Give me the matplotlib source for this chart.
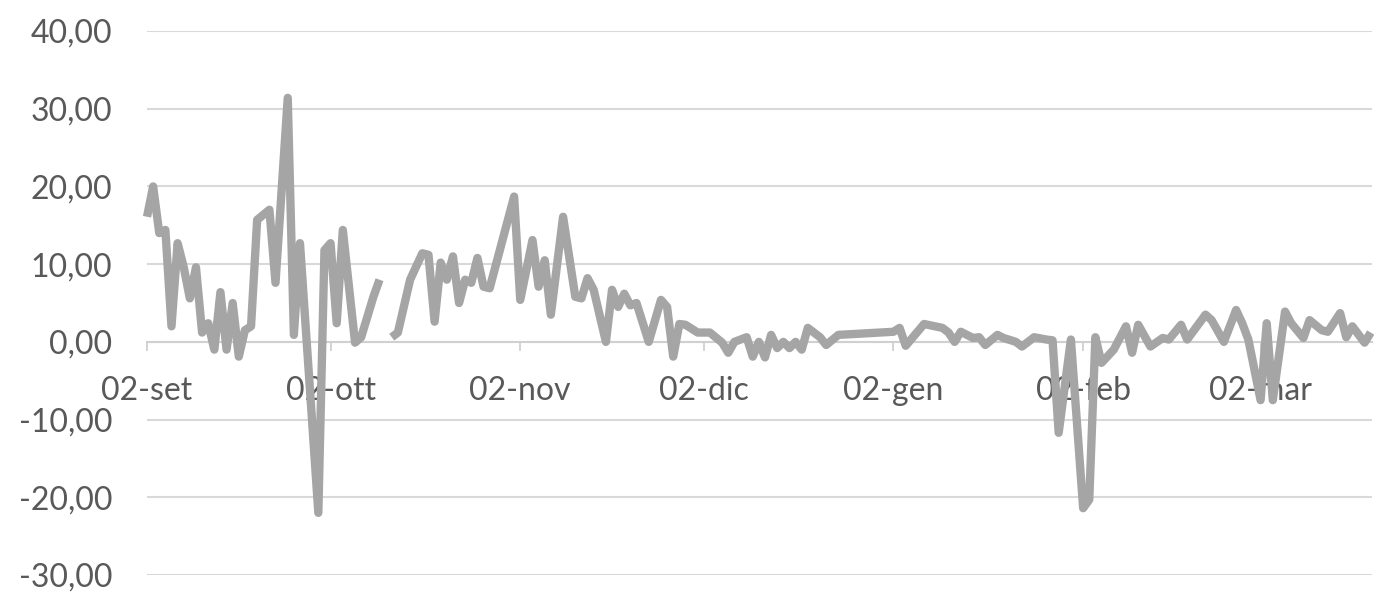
import numpy as np
import pandas as pd
import matplotlib
matplotlib.use("Agg")
import matplotlib.pyplot as plt

START = pd.Timestamp("2019-09-02")

# day offsets from 02-set, NaN marks the break in the series
days = [0, 1, 2, 3, 4, 5, 6, 7, 8, 9, 10, 11, 12, 13, 14, 15, 16, 17, 18, 20,
        21, 23, 24, 25, 28, 29, 30, 31, 32, 34, 35, 37, 38, 39,
        40, 41, 43, 45, 46, 47, 48, 49, 50, 51, 52, 53, 54, 55, 56, 60,
        61, 63, 64, 65, 66, 68, 70, 71, 72, 73, 75, 76, 77, 78, 79, 80,
        82, 84, 85, 86, 87, 88, 90,
        92, 94, 95, 96, 98, 99, 100, 101, 102, 103, 104, 105, 106, 107,
        108, 110, 111, 113, 122, 123, 124, 127, 130, 131, 132, 133, 135,
        136, 137, 139, 140, 142, 143, 145, 147, 148, 149, 151, 153, 154,
        155, 156, 158, 160, 161, 162, 164, 166, 167, 169, 170, 173, 174,
        176, 178, 179, 180, 182, 183, 184, 186, 187, 189, 190, 192, 193,
        195, 196, 197, 199, 200]

values = [16.1, 20.0, 14.0, 14.4, 2.0, 12.7, 9.6, 5.6, 9.6, 1.2, 2.4, -1.0,
          6.4, -1.0, 5.0, -1.9, 1.5, 2.0, 15.7, 17.0,
          7.6, 31.4, 0.9, 12.7, -22.0, 11.8, 12.7, 2.4, 14.4, -0.1, 0.6,
          5.8, 8.0, np.nan,
          0.6, 1.2, 8.0, 11.4, 11.2, 2.6, 10.2, 8.0, 11.0, 5.0, 8.0, 7.6,
          10.8, 7.1, 6.9, 18.7,
          5.4, 13.1, 7.1, 10.5, 3.5, 16.1, 5.8, 5.6, 8.2, 6.7, 0.0, 6.7,
          4.5, 6.2, 4.7, 5.0,
          0.0, 5.4, 4.5, -1.9, 2.3, 2.2, 1.2,
          1.2, -0.1, -1.4, 0.0, 0.6, -1.9, 0.0, -2.0, 0.9, -0.8, 0.0, -0.8,
          0.0, -1.0,
          1.8, 0.6, -0.4, 0.9, 1.3, 1.8, -0.5, 2.3, 1.8, 1.2, 0.0, 1.3, 0.5,
          0.6, -0.4, 0.9, 0.5, 0.0, -0.6, 0.6, 0.3, 0.2, -11.7, 0.3, -21.4,
          -20.3,
          0.6, -2.7, -1.0, 2.0, -1.4, 2.2, -0.6, 0.5, 0.3, 2.2, 0.3, 3.5,
          2.8,
          0.0, 4.1, 2.4, 0.3, -7.5, 2.4, -7.5, 3.9, 2.4, 0.5, 2.8, 1.5, 1.3,
          3.7, 0.6, 2.0, -0.1, 1.2]

month_ticks = ["2019-09-02", "2019-10-02", "2019-11-02", "2019-12-02",
               "2020-01-02", "2020-02-02", "2020-03-02"]
month_labels = ["02-set", "02-ott", "02-nov", "02-dic", "02-gen", "02-feb", "02-mar"]

y_ticks = [-30, -20, -10, 0, 10, 20, 30, 40]
y_labels = ["-30,00", "-20,00", "-10,00", "0,00", "10,00", "20,00", "30,00", "40,00"]

plt.rcParams["font.family"] = ["Lato", "DejaVu Sans"]

dates = START + pd.to_timedelta(days, unit="D")

fig = plt.figure(figsize=(13.74, 5.92), dpi=100)
ax = fig.add_axes([0.107, 0.0287, 0.8915, 0.9189])

ax.plot(dates, values, color="#a5a5a5", lw=6.0, solid_joinstyle="round",
        solid_capstyle="butt", clip_on=False, zorder=3)

ax.set_ylim(-30, 40)
ax.set_xlim(START, START + pd.Timedelta(days=200.2))

ax.set_yticks(y_ticks)
ax.set_yticklabels(y_labels)
ax.set_xticks(pd.to_datetime(month_ticks))
ax.set_xticklabels(month_labels)

ax.set_axisbelow(True)
ax.grid(axis="y", color="#d9d9d9", lw=1.5)

for side in ["top", "right", "left"]:
    ax.spines[side].set_visible(False)
ax.spines["bottom"].set_position(("data", 0))
ax.spines["bottom"].set_color("#d0d0d0")
ax.spines["bottom"].set_linewidth(1.5)
ax.spines["bottom"].set_zorder(0.6)

ax.tick_params(axis="y", length=0, pad=25, labelsize=23, labelcolor="#595959")
ax.tick_params(axis="x", length=6.5, width=1.3, color="#d0d0d0", pad=18,
               labelsize=23, labelcolor="#595959")

fig.savefig("out.png", dpi=100)
